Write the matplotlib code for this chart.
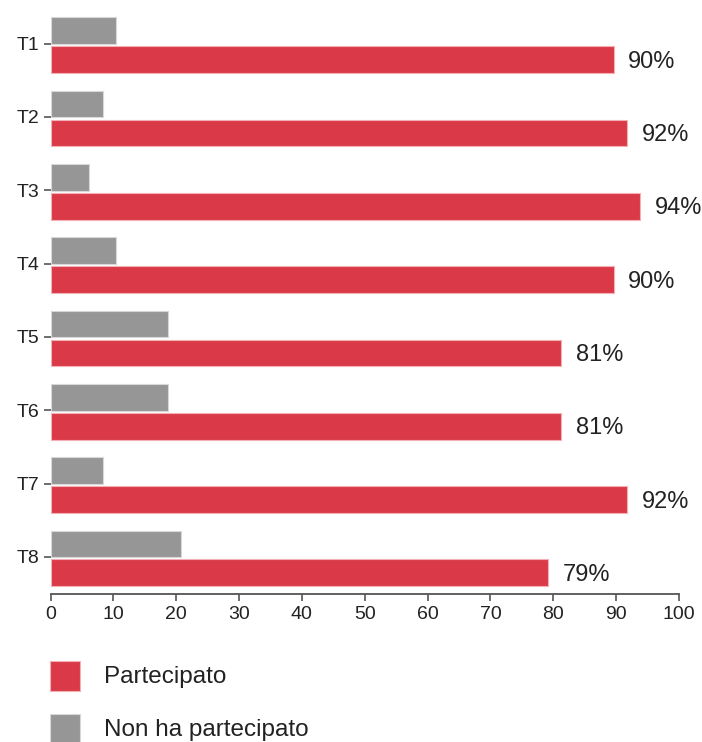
import matplotlib
matplotlib.use("Agg")
import matplotlib.pyplot as plt
from matplotlib.patches import Rectangle
import numpy as np

categories = ["T1", "T2", "T3", "T4", "T5", "T6", "T7", "T8"]
partecipato = [89.6, 91.7, 93.8, 89.6, 81.3, 81.3, 91.7, 79.2]
non_partecipato = [10.4, 8.3, 6.2, 10.4, 18.7, 18.7, 8.3, 20.8]
labels_pct = ["90%", "92%", "94%", "90%", "81%", "81%", "92%", "79%"]
series_names = ["Partecipato", "Non ha partecipato"]
x_ticks = [0, 10, 20, 30, 40, 50, 60, 70, 80, 90, 100]

RED = "#DA3A47"
GRAY = "#969696"
TXT = "#222222"
AX = "#555555"

plt.rcParams['font.family'] = ['Liberation Sans', 'DejaVu Sans']

W, H = 702, 742
fig = plt.figure(figsize=(W / 100, H / 100), dpi=100)
ax = fig.add_axes([50.5 / W, (H - 593.5) / H, (679 - 50.5) / W, (593.5 - 7) / H])

y = np.arange(len(categories))
h = 0.364
ax.barh(y - 0.177, non_partecipato, height=h, color=GRAY, edgecolor="#d8d8d8", linewidth=0.8)
ax.barh(y + 0.218, partecipato, height=h, color=RED, edgecolor="#f2b0b6", linewidth=0.8)

for yi, v, lab in zip(y, partecipato, labels_pct):
    ax.annotate(lab, (v, yi + 0.218), xytext=(10.5, -1.5), textcoords="offset points",
                ha="left", va="center", fontsize=17, color=TXT)

ax.set_xlim(0, 100)
ax.set_ylim(len(categories) - 0.5, -0.5)
ax.set_xticks(x_ticks)
ax.set_xticklabels([str(t) for t in x_ticks])
ax.set_yticks(y)
ax.set_yticklabels(categories)

for s in ["top", "right", "left"]:
    ax.spines[s].set_visible(False)
ax.spines["bottom"].set_color(AX)
ax.spines["bottom"].set_linewidth(1.3)
ax.tick_params(axis="x", length=5, width=1.2, color=AX, labelsize=14, labelcolor=TXT, pad=4)
ax.tick_params(axis="y", length=5, width=1.2, color=AX, labelsize=14, labelcolor=TXT, pad=3)

# legend
legend_items = [(series_names[0], RED, "#f2b0b6"), (series_names[1], GRAY, "#d8d8d8")]
for i, (name, col, ec) in enumerate(legend_items):
    top = 661 + i * 53
    fig.add_artist(Rectangle((50 / W, (H - top - 30) / H), 30 / W, 30 / H,
                             transform=fig.transFigure, facecolor=col, edgecolor=ec, linewidth=0.8))
    fig.text(104 / W, (H - top - 16) / H, name, fontsize=17.5, color=TXT, va="center", ha="left")

fig.savefig("out.png", dpi=100)
